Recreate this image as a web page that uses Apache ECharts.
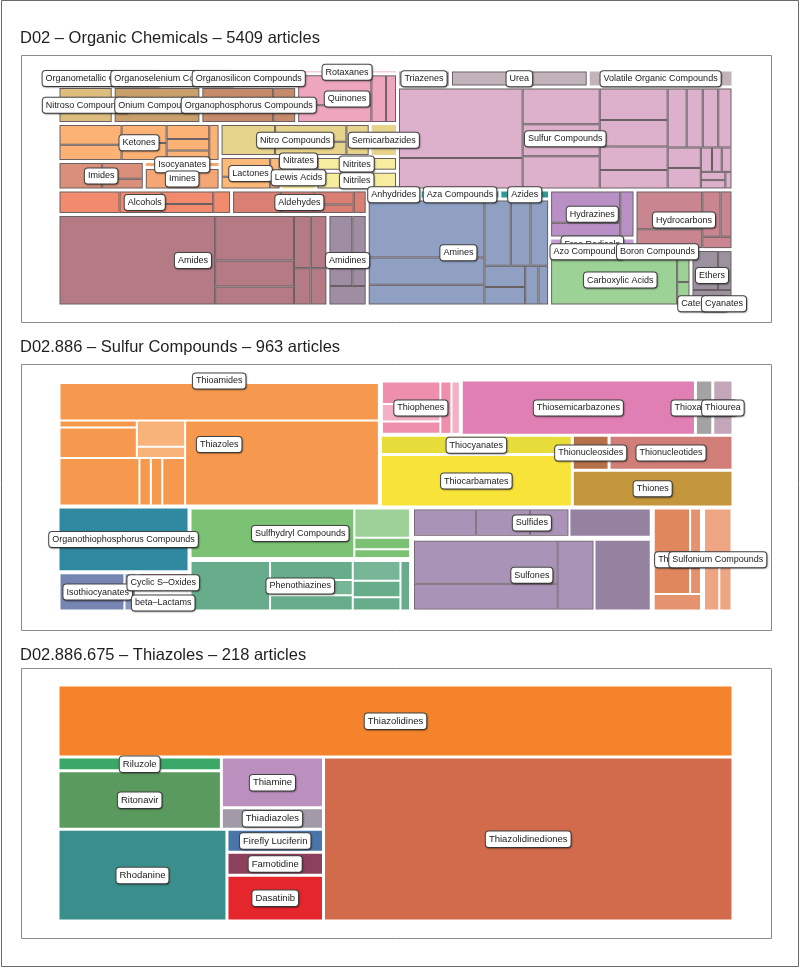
<!DOCTYPE html>
<html><head><meta charset="utf-8">
<script src="https://cdn.jsdelivr.net/npm/echarts@6/dist/echarts.min.js"></script>
<style>html,body{margin:0;padding:0;background:#fff}#c{width:800px;height:968px}</style>
</head><body><div id="c"></div>
<script>
// ================= DATA =================
// ---- Panel 3: D02.886.675 Thiazoles ----
const p3Title = 'D02.886.675 – Thiazoles – 218 articles';
const p3Names = ['Thiazolidines','Thiazolidinediones','Rhodanine','Ritonavir','Riluzole','Thiamine','Thiadiazoles','Firefly Luciferin','Famotidine','Dasatinib'];
const p3Values = [66, 91, 21, 13, 3, 7, 3, 3, 3, 6];
const p3Colors = ['#f5832b','#d26b4b','#3a8e8c','#5b9a5f','#3aa866','#bb8fbe','#a29aa8','#4a75ab','#8d405c','#e5262d'];
// arrangement (nesting of indices)
const p3Layout = [0, [[[[4, 3], [5, 6]], [2, [7, 8, 9]]], 1]];

// ---- Panel 2: D02.886 Sulfur Compounds ----
const p2Title = 'D02.886 – Sulfur Compounds – 963 articles';
const p2Names = ['Thioamides','Thiazoles','Thiophenes','Thiosemicarbazones','Thioxanthenes','Thiourea','Thiocyanates','Thiocarbamates','Thionucleosides','Thionucleotides','Thiones','Organothiophosphorus Compounds','Isothiocyanates','Cyclic S–Oxides','beta–Lactams','Sulfhydryl Compounds','Phenothiazines','Sulfides','Sulfones','Thiazines','Sulfonium Compounds'];
const p2Values = [3, 253, 28, 81, 6, 7, 23, 63, 8, 27, 37, 53, 20, 7, 6, 73, 73, 47, 111, 33, 20];
const p2Colors = ['#f6994f','#f6994f','#ee8fae','#e07fb3','#a3a3a3','#c3a6b9','#e6dd3b','#f8e438','#b6714a','#d07e77','#c3963b','#2f89a0','#7785b2','#b8423f','#b8423f','#7cc274','#68ad8b','#a993b6','#a993b6','#e1875e','#eda584'];
const p2Sub = [null, null, [9,7,5,4,3], null, null, null, null, null, null, null, null, null, [17,3], [1,6], [1,5], [50,10,4,3], [25,10,8,8,6,5,4,3], [[40,35,25],52], [[50,30,20],31], [20,6,5], [10,5,4]];
const p2Tone = [null, null, [0,0.3,0,0,0.3], null, null, null, null, null, null, null, null, null, [0,0.15], [0,0.85], [0,0.85], [0,0.25,0,0], [0,0,0.1,0,0.1,0,0,0], [0,-0.12], [0,-0.12], [0,0.1,0.1], [0,0,0]];
const p2ThzTone = [0, 0, 0, 0, 0, 0.25, 0.25, 0, 0, 0];
const p2Layout = [[[0, 1], [[2, 3, [4, 5]], [[6, 7], [[8, 9], 10]]]], [[11, [12, [13, 14]]], [[15, 16], [[17, 18], [19, 20]]]]];

// ---- Panel 1: D02 Organic Chemicals ----
const p1Title = 'D02 – Organic Chemicals – 5409 articles';
const p1Names = ['Organometallic Compounds','Organoselenium Compounds','Nitroso Compounds','Onium Compounds','Organosilicon Compounds','Organophosphorus Compounds','Rotaxanes','Quinones','Ketones','Imides','Isocyanates','Imines','Nitro Compounds','Semicarbazides','Lactones','Nitrates','Lewis Acids','Nitrites','Nitriles','Triazenes','Urea','Volatile Organic Compounds','Sulfur Compounds','Alcohols','Aldehydes','Amides','Amidines','Anhydrides','Aza Compounds','Azides','Amines','Hydrazines','Free Radicals','Hydrocarbons','Azo Compounds','Boron Compounds','Carboxylic Acids','Ethers','Catenanes','Cyanates'];
const p1Values = [48, 31, 68, 108, 53, 118, 13, 167, 205, 82, 15, 57, 165, 30, 68, 10, 29, 40, 51, 30, 78, 82, 1152, 142, 111, 824, 120, 16, 24, 15, 651, 137, 33, 195, 10, 9, 247, 72, 4, 3];
const p1Colors = ['#c98961','#c98961','#ddbe7f','#c9a06b','#c68b6c','#c68b6c','#e99db8','#eea6bf','#fcb274','#d98f79','#f5a675','#f5a675','#e7d48c','#e7d48c','#fdb977','#f8cf3c','#f7ea9c','#f7ed9f','#f7ed9f','#c3b3bb','#c3b3bb','#c3b3bb','#ddb1cc','#f28b6d','#d97f73','#b57b85','#9e8da3','#7e93bf','#2f9b96','#2f9b96','#8fa0c3','#b890c6','#c49dd2','#c98690','#86c183','#a9d6a3','#9dd297','#9b919f','#a99fab','#b3a9b5'];
const p1Sub = [null, null, [40,28], [60,48], [33,20], [55,35,28], null, [80,45,25,17], [45,35,30,28,22,18,15,12], [42,25,15], null, [30,27], [60,45,35,25], null, [35,22,11], null, null, [25,15], [30,21], null, [45,33], null,
  p2Values.slice().sort((a, b) => b - a),
  [50,35,25,18,14], [40,28,20,13,10], [456,116,68,47,29,27,20,19], [60,35,25], null, null, null, [230,110,80,60,45,40,30,25,18,13], [80,35,22], null, [90,45,30,18,12], null, null, [225,12,10], [38,20,14], null, null];
const p1Layout = [
  [ [ [ [[0, 1], [2, 3]], [4, 5], [6, 7] ], [ [8, [9, [10, 11]]], [[12, 13], [14, [15, 16], [17, 18]]] ] ], [[19, 20, 21], 22] ],
  [ [[23, 24], [25, 26]], [ [[27, 28, 29], 30], [ [[31, 32], 33], [ [[34, 35], 36], [37, [38, 39]] ] ] ] ]
];

// ================= BUILD =================
const FONT = 'Liberation Sans, Arial, Helvetica, sans-serif';
const GRAY = '#6a6064';
function shade(hex, t) {
  if (!t) return hex;
  const n = parseInt(hex.slice(1), 16);
  const f = c => Math.round(t > 0 ? c + (255 - c) * t : c * (1 + t));
  return 'rgb(' + f(n >> 16) + ',' + f((n >> 8) & 255) + ',' + f(n & 255) + ')';
}
const GROUP = { borderWidth: 0, gapWidth: 0, borderColor: '#ffffff', color: '#ffffff' };
const CLEAR = { borderWidth: 0, gapWidth: 0, borderColor: 'rgba(0,0,0,0)', color: 'rgba(0,0,0,0)' };

function arrange(layout, leafFn, groupStyle) {
  return layout.map(n => Array.isArray(n)
    ? { name: '', itemStyle: groupStyle, children: arrange(n, leafFn, groupStyle) }
    : leafFn(n));
}
function subNodes(name, values, color, tones, line, lineW) {
  return values.map((v, k) => {
    const c = shade(color, tones ? tones[k] : 0);
    if (Array.isArray(v)) {
      return { name, itemStyle: { color: c, borderColor: line, borderWidth: lineW, gapWidth: 0 },
        children: v.map(w => ({ name, value: w, itemStyle: { color: c, borderColor: GRAY, borderWidth: 0.8 } })) };
    }
    return { name, value: v, itemStyle: { color: c, borderColor: line, borderWidth: lineW } };
  });
}
function catStyle(color) { return { color, borderColor: '#ffffff', borderWidth: 1.5, gapWidth: 0 }; }

const p1Data = arrange(p1Layout, i => {
  const node = { name: p1Names[i], value: p1Values[i], itemStyle: catStyle(p1Colors[i]) };
  if (p1Sub[i]) node.children = subNodes(p1Names[i], p1Sub[i], p1Colors[i], null, GRAY, 1);
  return node;
}, GROUP);

const p2Data = arrange(p2Layout, i => {
  const node = { name: p2Names[i], value: p2Values[i], itemStyle: catStyle(p2Colors[i]) };
  if (p2Names[i] === 'Thiazoles') {
    node.children = arrange(p3Layout, j => ({ name: p3Names[j], value: p3Values[j],
      itemStyle: { color: shade(p2Colors[i], p2ThzTone[j]), borderColor: '#ffffff', borderWidth: 1 } }), GROUP);
  } else if (p2Sub[i]) {
    node.children = subNodes(p2Names[i], p2Sub[i], p2Colors[i], p2Tone[i], '#ffffff', 1);
  }
  return node;
}, GROUP);

const p3Data = arrange(p3Layout, i => ({ name: p3Names[i], value: p3Values[i], itemStyle: catStyle(p3Colors[i]) }), GROUP);

function labelData(layout, names, values) {
  return arrange(layout, i => ({ name: names[i], value: values[i], itemStyle: CLEAR }), CLEAR);
}

function makeLabel(fs) {
  return {
    show: true, position: ['50%', '50%'], align: 'center', verticalAlign: 'top', padding: 0, overflow: 'none',
    formatter: p => '{b|' + p.name + '}',
    rich: { b: { fontFamily: FONT, fontSize: fs, color: '#1a1a1a', backgroundColor: '#ffffff',
      borderColor: '#474747', borderWidth: 1, borderRadius: 3, padding: [2, 3, 2, 3],
      height: fs + 2, lineHeight: 0.5,
      shadowColor: 'rgba(0,0,0,0.35)', shadowBlur: 1.5, shadowOffsetX: 0.6, shadowOffsetY: 0.8 } }
  };
}

function tm(data, box, ratio, labelSize) {
  const labels = labelSize > 0;
  return {
    type: 'treemap', left: box[0], top: box[1], width: box[2], height: box[3],
    squareRatio: ratio, sort: false, roam: false, nodeClick: false, silent: true,
    breadcrumb: { show: false }, animation: false,
    itemStyle: labels ? CLEAR : GROUP,
    levels: [{ itemStyle: labels ? CLEAR : GROUP }],
    label: labels ? makeLabel(labelSize) : { show: false },
    upperLabel: { show: false },
    emphasis: { disabled: true },
    z: labels ? 5 : 2,
    data
  };
}

const titleStyle = { fontFamily: FONT, fontSize: 16.5, fontWeight: 'normal', color: '#1e1e1e' };
const frame = (y, h) => ({ type: 'rect', shape: { x: 21.5, y: y + 0.5, width: 750, height: h },
  style: { fill: 'none', stroke: '#8a8a8a', lineWidth: 1 }, z: 0, silent: true });

const chart = echarts.init(document.getElementById('c'), null, { renderer: 'canvas' });
chart.setOption({
  animation: false,
  backgroundColor: '#ffffff',
  title: [
    { text: p1Title, left: 20, top: 30, padding: 0, textStyle: titleStyle },
    { text: p2Title, left: 20, top: 339, padding: 0, textStyle: titleStyle },
    { text: p3Title, left: 20, top: 647, padding: 0, textStyle: titleStyle }
  ],
  graphic: [
    { type: 'rect', shape: { x: 1.5, y: 0.5, width: 797, height: 966 }, style: { fill: 'none', stroke: '#6a6a6a', lineWidth: 1 }, z: 0, silent: true },
    frame(55, 267), frame(364, 266), frame(668, 270)
  ],
  series: [
    tm(p1Data, [58, 70, 675, 236], 3.0, 0),
    tm(labelData(p1Layout, p1Names, p1Values), [58, 70, 675, 236], 3.0, 9),
    tm(p2Data, [58, 380, 675, 232], 3.4, 0),
    tm(labelData(p2Layout, p2Names, p2Values), [58, 380, 675, 232], 3.4, 9),
    tm(p3Data, [58, 685, 675, 236], 3.5, 0),
    tm(labelData(p3Layout, p3Names, p3Values), [58, 685, 675, 236], 3.5, 9.5)
  ]
});
</script></body></html>
